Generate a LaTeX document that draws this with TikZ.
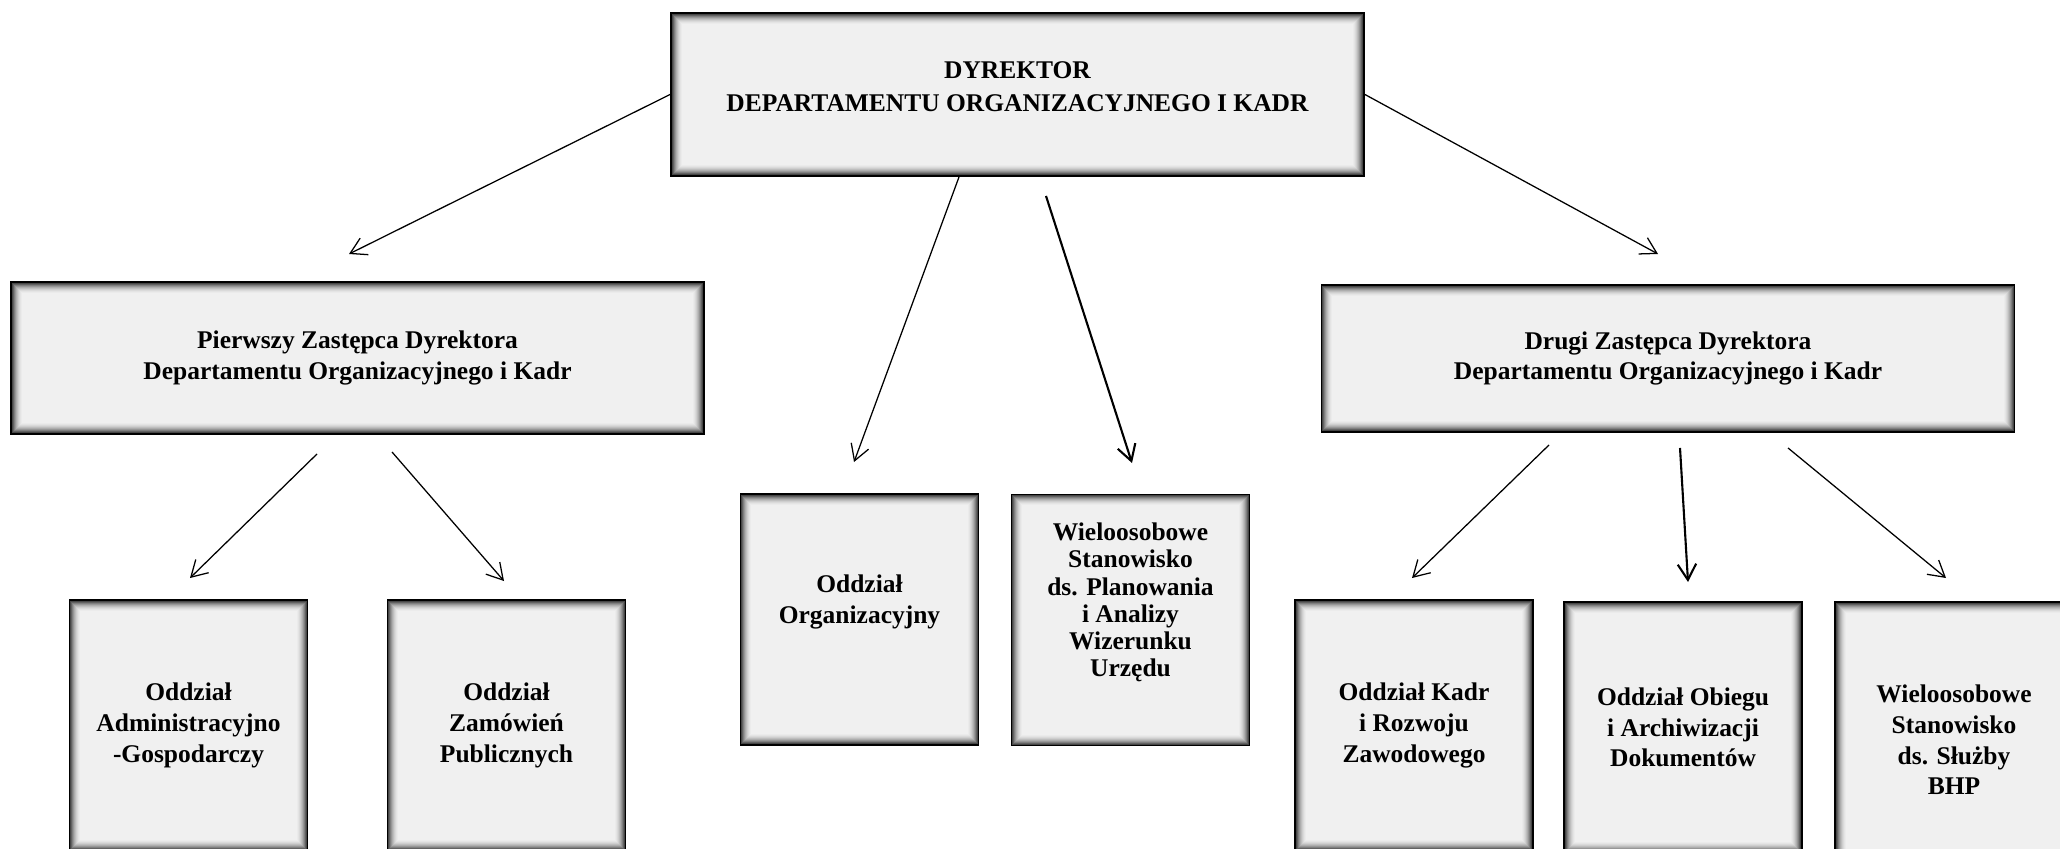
\documentclass[tikz,border=0pt]{standalone}
\usepackage{fontspec}
\setmainfont{Liberation Serif}
\usetikzlibrary{arrows.meta}
\definecolor{boxgray}{RGB}{240,240,240}

\begin{document}
\begin{tikzpicture}[
  unit/.style={draw=black, line width=1.1pt, fill=boxgray, align=center,
    inner sep=0pt, font=\bfseries\fontsize{14.5}{17.5}\selectfont,
    path picture={
      \foreach \i [evaluate=\i as \pc using int(85*(1-\i/12)^2)] in {0,...,11}
        \draw[draw=black!\pc!boxgray, line width=0.6pt]
          ([shift={(\i*0.55pt+0.3pt,\i*0.55pt+0.3pt)}]path picture bounding box.south west)
          rectangle ([shift={(-\i*0.55pt-0.3pt,-\i*0.55pt-0.3pt)}]path picture bounding box.north east);
    }},
  head/.style={minimum width=13.86cm, minimum height=3.26cm},
  small/.style={minimum width=4.76cm, minimum height=5.02cm},
  lift/.style={text depth=#1},
  arr/.style={-{Straight Barb[length=9pt,width=10.5pt]}, line width=0.72pt},
  arrb/.style={arr, line width=1.2pt}]
  \useasboundingbox (0,0) rectangle (41.2,-16.96);
  \clip (0,0) rectangle (41.2,-16.96);

  \node[unit,head,lift=9pt,font=\bfseries\fontsize{14.5}{18.7}\selectfont] (dyr) at (20.35,-1.89)
    {DYREKTOR\\DEPARTAMENTU ORGANIZACYJNEGO I KADR};
  \node[unit,head,minimum height=3.04cm] (pz) at (7.15,-7.16)
    {Pierwszy Zastępca Dyrektora\\Departamentu Organizacyjnego i Kadr};
  \node[unit,head,minimum height=2.94cm] (dz) at (33.36,-7.17)
    {Drugi Zastępca Dyrektora\\Departamentu Organizacyjnego i Kadr};

  \node[unit,small] (adm) at (3.77,-14.51) {Oddział\\Administracyjno\\-Gospodarczy};
  \node[unit,small] (zam) at (10.13,-14.51) {Oddział\\Zamówień\\Publicznych};
  \node[unit,small,lift=23.5pt] (org) at (17.19,-12.39) {Oddział\\Organizacyjny};
  \node[unit,small,lift=23pt,font=\bfseries\fontsize{14.5}{15.5}\selectfont] (plan) at (22.61,-12.40)
    {Wieloosobowe\\Stanowisko\\ds. Planowania\\i Analizy\\Wizerunku\\Urzędu};
  \node[unit,small] (kadr) at (28.28,-14.51) {Oddział Kadr\\i Rozwoju\\Zawodowego};
  \node[unit,small] (obieg) at (33.66,-14.55) {Oddział Obiegu\\i Archiwizacji\\Dokumentów};
  \node[unit,small,minimum height=5.52cm] (bhp) at (39.08,-14.80)
    {Wieloosobowe\\Stanowisko\\ds. Służby\\BHP};

  % arrow tips
  \coordinate (h1) at (6.98,-5.08);
  \coordinate (h2) at (33.16,-5.08);
  \coordinate (h3) at (17.08,-9.24);
  \coordinate (h4) at (22.64,-9.26);
  \coordinate (h5) at (3.80,-11.56);
  \coordinate (h6) at (10.08,-11.62);
  \coordinate (h7) at (28.24,-11.56);
  \coordinate (h8) at (33.76,-11.64);
  \coordinate (h9) at (38.92,-11.56);

  \draw[arr] (dyr.west) -- (h1);
  \draw[arr] (dyr.east) -- (h2);
  \draw[arr] ([xshift=-1.17cm]dyr.south) -- (h3);
  \draw[arrb] ([shift={(0.57,-0.38)}]dyr.south) -- (h4);
  \draw[arr] ([shift={(-0.81,-0.38)}]pz.south) -- (h5);
  \draw[arr] ([shift={(0.69,-0.34)}]pz.south) -- (h6);
  \draw[arr] ([shift={(-2.38,-0.24)}]dz.south) -- (h7);
  \draw[arrb] ([shift={(0.24,-0.30)}]dz.south) -- (h8);
  \draw[arr] ([shift={(2.40,-0.30)}]dz.south) -- (h9);
\end{tikzpicture}
\end{document}
